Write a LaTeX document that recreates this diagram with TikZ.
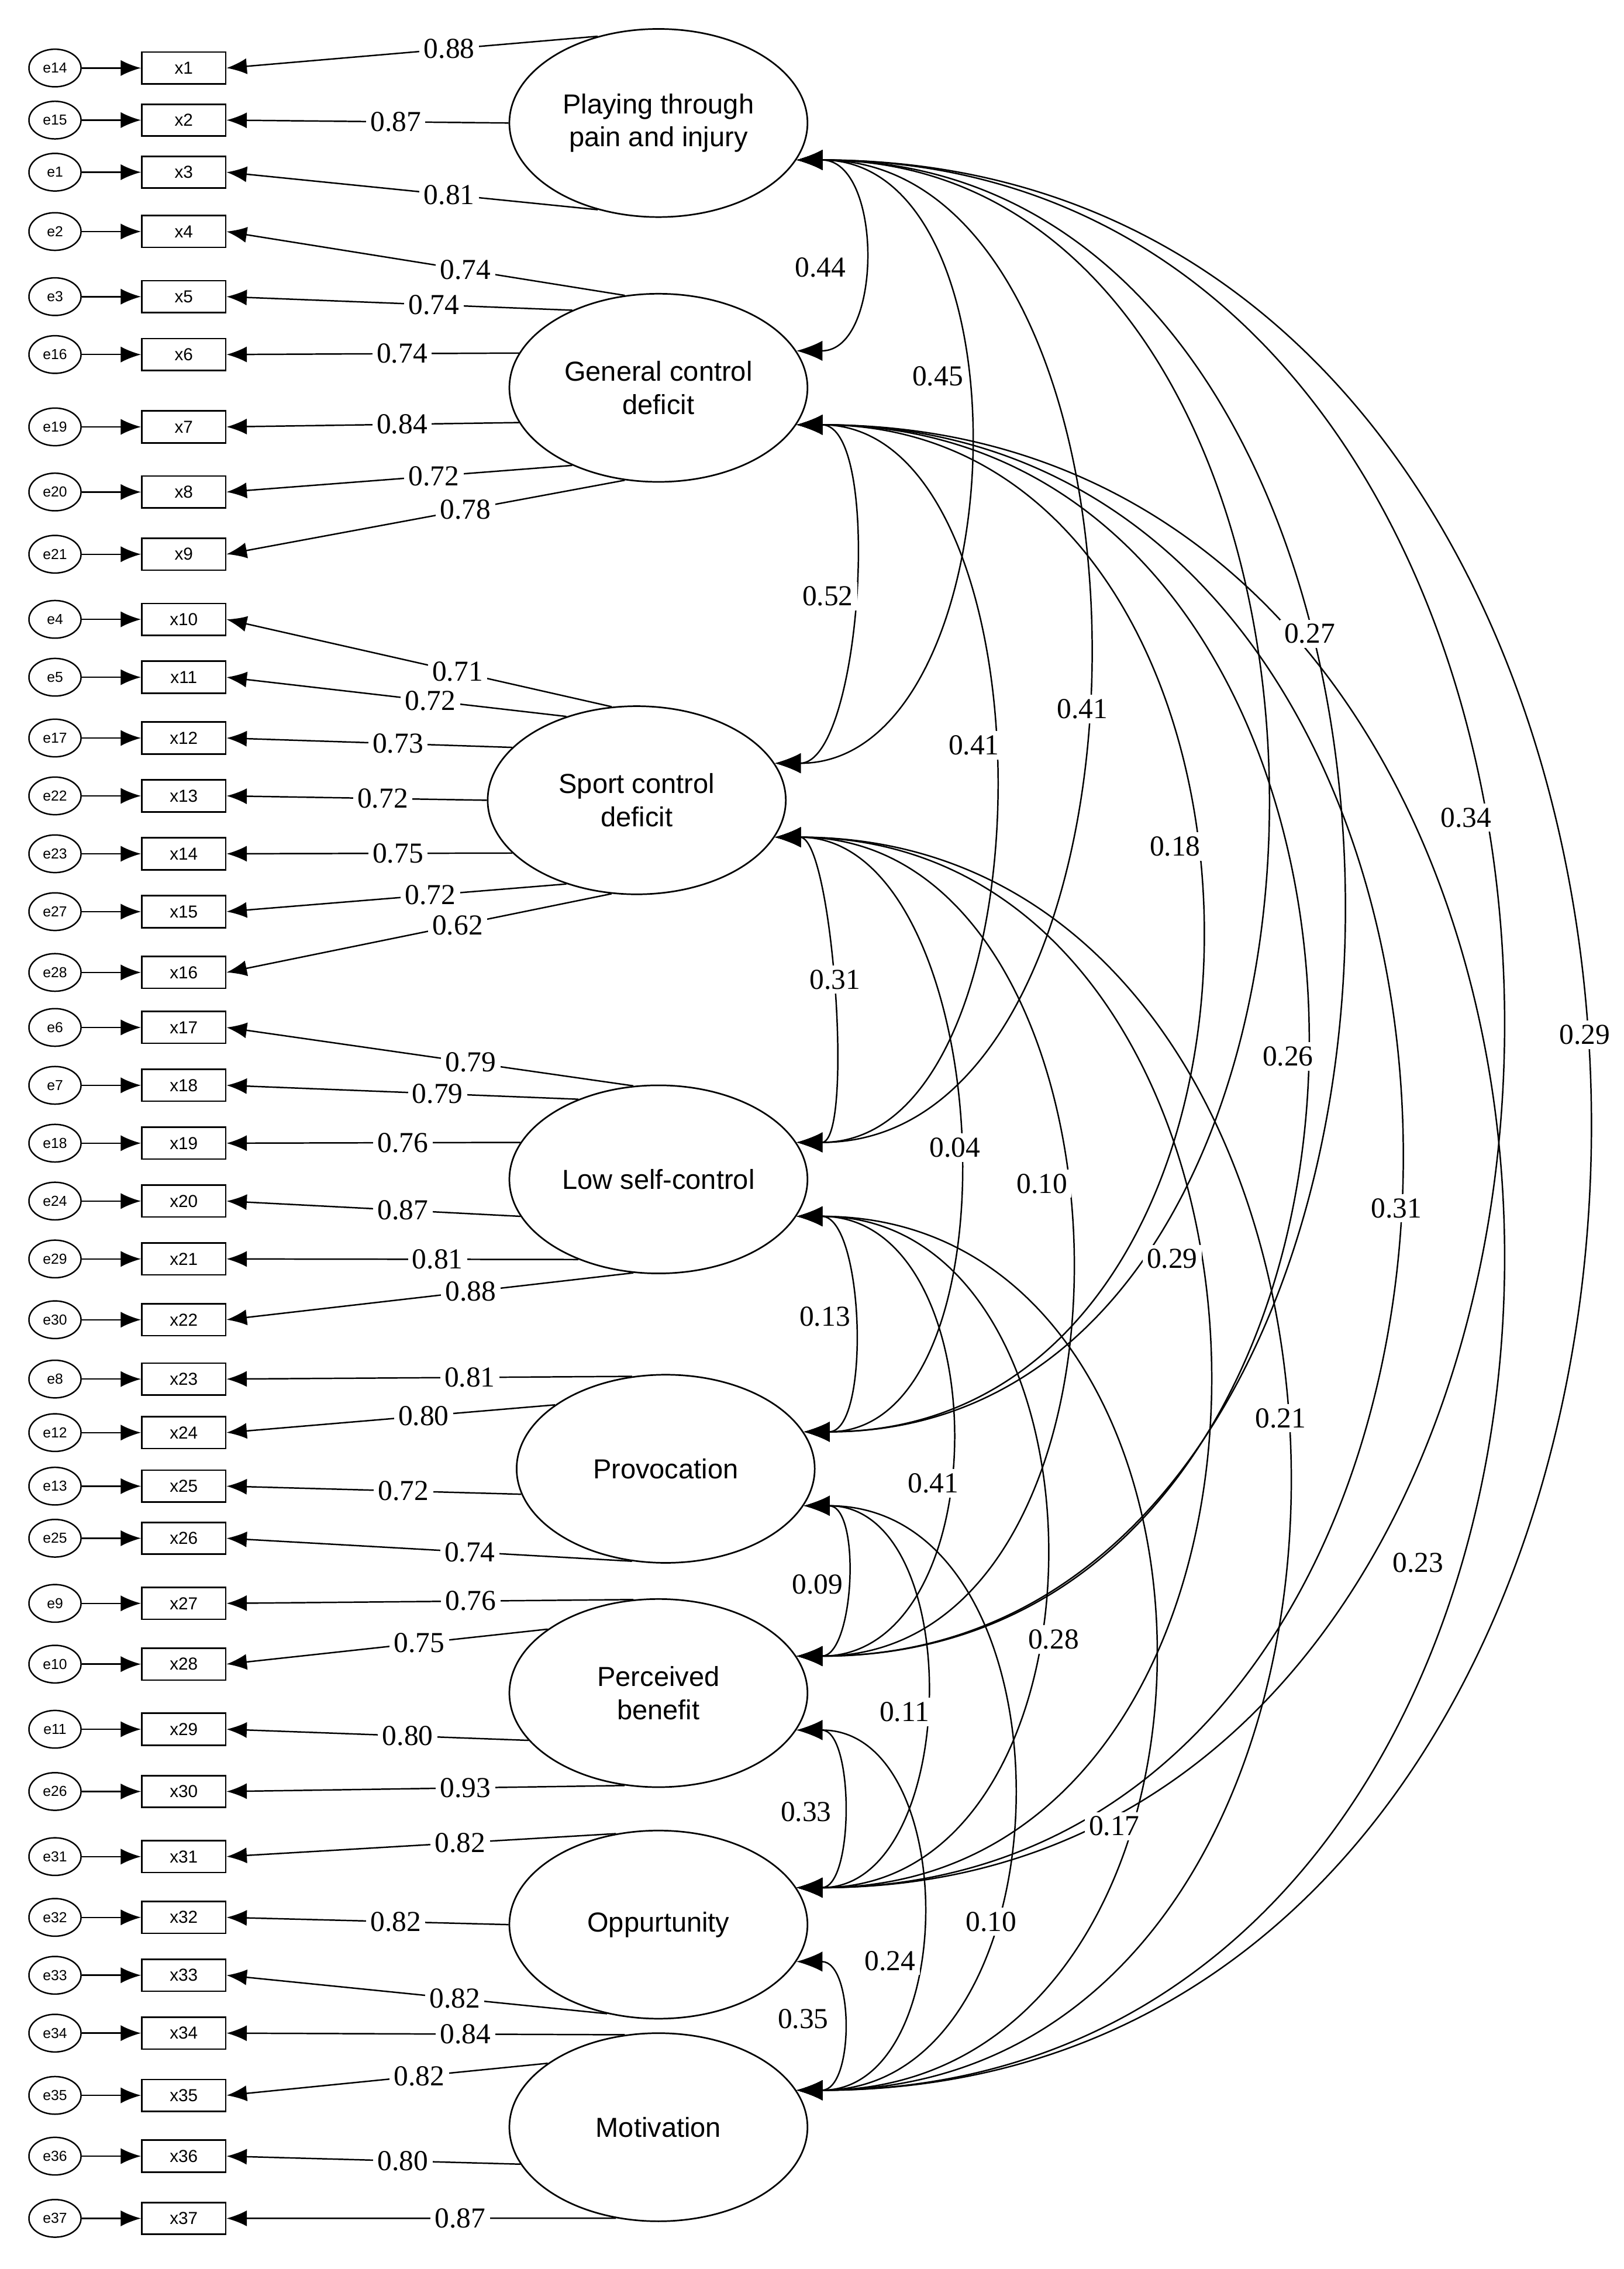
\documentclass[tikz,border=0pt]{standalone}
\usepackage{fontspec}
\setmainfont{Liberation Serif}
\newfontfamily\sansf{Liberation Sans}
\usetikzlibrary{shapes.geometric,arrows.meta}
\begin{document}
\begin{tikzpicture}[x=1pt,y=-1pt,
  lat/.style={ellipse,draw,line width=1.1pt,minimum width=206pt,minimum height=130pt,inner sep=0pt,align=center,font=\sansf\fontsize{19}{23}\selectfont},
  obs/.style={rectangle,draw,line width=1.1pt,minimum width=58pt,minimum height=22pt,inner sep=0pt,font=\sansf\fontsize{12}{14}\selectfont},
  err/.style={ellipse,draw,line width=1pt,minimum width=36pt,minimum height=26pt,inner sep=0pt,font=\sansf\fontsize{10}{12}\selectfont},
  arr/.style={line width=1pt,-{Latex[length=14pt,width=11pt]}},
  cov/.style={line width=1pt,{Latex[length=18pt,width=14pt]}-{Latex[length=18pt,width=14pt]}},
  num/.style={fill=white,inner sep=3pt,font=\fontsize{20}{24}\selectfont}]
\useasboundingbox (0,0) rectangle (1122,1568);
\node[lat] (L1) at (455,85) {Playing through\\pain and injury};
\node[lat] (L2) at (455,268) {General control\\deficit};
\node[lat] (L3) at (440,553) {Sport control\\deficit};
\node[lat] (L4) at (455,815) {Low self-control};
\node[lat] (L5) at (460,1015) {Provocation};
\node[lat] (L6) at (455,1170) {Perceived\\benefit};
\node[lat] (L7) at (455,1330) {Oppurtunity};
\node[lat] (L8) at (455,1470) {Motivation};
\foreach \i/\y/\e/\v/\L/\a in {
 1/47/e14/0.88/L1/125, 2/83/e15/0.87/L1/180, 3/119/e1/0.81/L1/235,
 4/160/e2/0.74/L2/110, 5/205/e3/0.74/L2/138, 6/245/e16/0.74/L2/166, 7/295/e19/0.84/L2/194, 8/340/e20/0.72/L2/222, 9/383/e21/0.78/L2/250,
 10/428/e4/0.71/L3/105, 11/468/e5/0.72/L3/130, 12/510/e17/0.73/L3/157, 13/550/e22/0.72/L3/180, 14/590/e23/0.75/L3/203, 15/630/e27/0.72/L3/230, 16/672/e28/0.62/L3/255,
 17/710/e6/0.79/L4/105, 18/750/e7/0.79/L4/135, 19/790/e18/0.76/L4/165, 20/830/e24/0.87/L4/195, 21/870/e29/0.81/L4/225, 22/912/e30/0.88/L4/255,
 23/953/e8/0.81/L5/110, 24/990/e12/0.80/L5/150, 25/1027/e13/0.72/L5/190, 26/1063/e25/0.74/L5/250,
 27/1108/e9/0.76/L6/105, 28/1150/e10/0.75/L6/150, 29/1195/e11/0.80/L6/200, 30/1238/e26/0.93/L6/250,
 31/1283/e31/0.82/L7/115, 32/1325/e32/0.82/L7/180, 33/1365/e33/0.82/L7/240,
 34/1405/e34/0.84/L8/110, 35/1448/e35/0.82/L8/150, 36/1490/e36/0.80/L8/195, 37/1533/e37/0.87/L8/245}{
  \node[obs] (x\i) at (127,\y) {x\i};
  \node[err] (\e) at (38,\y) {\e};
  \draw[arr] (\e) -- (x\i);
  \draw[arr] (\L.\a) -- node[num,pos=0.4] {\v} (x\i.east);
}
\foreach \a/\b/\ap in {
 L1/L2/590, L1/L3/670, L1/L4/745, L1/L5/865, L1/L6/920, L1/L7/1030, L1/L8/1090,
 L2/L3/590, L2/L4/680, L2/L5/820, L2/L6/895, L2/L7/960, L2/L8/1030,
 L3/L4/575, L3/L5/660, L3/L6/740, L3/L7/835, L3/L8/890,
 L4/L5/580, L4/L6/650, L4/L7/715, L4/L8/790,
 L5/L6/575, L5/L7/630, L5/L8/690,
 L6/L7/575, L6/L8/630, L7/L8/575}{
  \pgfmathsetmacro\d{(\ap-545)/0.75}
  \draw[cov] (\a.-15) .. controls +(\d,0) and +(\d,0) .. (\b.15);
}
\foreach \x/\y/\t in {567/185/0.44, 648/260/0.45, 572/412/0.52, 673/515/0.41, 748/490/0.41,
 905/438/0.27, 812/585/0.18, 1013/565/0.34, 890/730/0.26, 1095/715/0.29, 965/835/0.31,
 885/980/0.21, 980/1080/0.23, 577/677/0.31, 660/793/0.04, 720/818/0.10, 810/870/0.29,
 570/910/0.13, 645/1025/0.41, 728/1133/0.28, 565/1095/0.09, 625/1183/0.11, 770/1262/0.17,
 557/1252/0.33, 615/1355/0.24, 685/1328/0.10, 555/1395/0.35}{
  \node[num] (c\x\y) at (\x,\y) {\t};
}
\end{tikzpicture}
\end{document}
